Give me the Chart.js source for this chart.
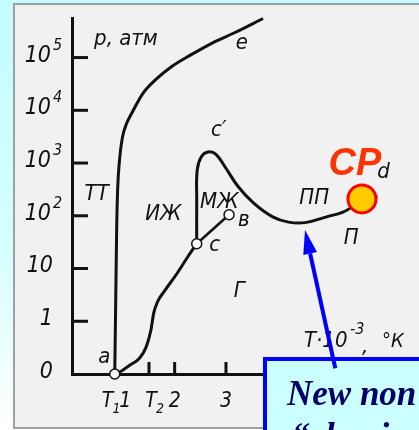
<!DOCTYPE html>
<html><head><meta charset="utf-8">
<script src="https://cdn.jsdelivr.net/npm/chart.js@4/dist/chart.umd.min.js"></script>
<style>
html,body{margin:0;padding:0;width:419px;height:430px;overflow:hidden;
 background:linear-gradient(180deg,#c4fcff 0%,#d4ffff 55%,#ffffff 100%);}
#panel{position:absolute;left:13px;top:3px;width:420px;height:422px;background:#f1f1f1;border:2px solid #a0a0a0;}
#wrap{position:absolute;left:0;top:0;width:419px;height:430px;}
</style></head><body>
<div id="panel"></div>
<div id="wrap"><canvas id="c"></canvas></div>
<script>
// ---- data (T·10^-3 K, log-decade index of p) ----
const SUB_T = [0.833,0.852,0.870,0.889,0.926,0.981,1.056,1.167,1.389,1.630,1.944,2.315,2.741,3.167,3.722];
const SUB_P = [0,1.40,2.73,3.49,4.06,4.48,4.73,4.95,5.33,5.58,5.83,6.05,6.28,6.47,6.74];
const VAP_T = [0.833,0.90,1.13,1.315,1.444,1.537,1.593,1.667,1.815,2.056,2.241,2.43];
const VAP_P = [0.0,0.02,0.17,0.30,0.51,0.83,1.16,1.37,1.59,1.92,2.20,2.47];
const HUMP_T = [2.43,2.43,2.44,2.52,2.65,2.80,2.98,3.24,3.54,3.91,4.22,4.54,4.96,5.28,5.46,5.65,5.95];
const HUMP_P = [2.47,3.30,3.87,4.12,4.21,4.17,3.93,3.55,3.24,2.98,2.88,2.87,2.98,3.07,3.17,3.32,3.37];
const CV_T = [2.43,3.06];
const CV_P = [2.47,3.02];
const A_T = [0.833], A_P = [0];
const CP_T = [5.65], CP_P = [3.32];
const Y_TICKS = [1,2,3,4,5,6];
const Y_BASE = ['0','1','10','10','10','10','10'];
const Y_EXP  = ['','','','2','3','4','5'];
const X_TICKS = [1.5,2,3,4];
const X_LABELS = [{v:0.69,t:'T',s:'1'},{v:1.04,t:'1'},{v:1.54,t:'T',s:'2'},{v:2.0,t:'2'},{v:3.0,t:'3'}];
const REGION_LABELS = [
 {t:'e',x:3.31,y:6.28},{t:'c′',x:2.86,y:4.63},{t:'ТТ',x:0.48,y:3.40},{t:'ИЖ',x:1.78,y:3.02},
 {t:'МЖ',x:2.87,y:3.26},{t:'в',x:3.35,y:2.92},{t:'c',x:2.78,y:2.45},{t:'ПП',x:4.72,y:3.34},
 {t:'П',x:5.44,y:2.58},{t:'Г',x:3.26,y:1.57},{t:'a',x:0.63,y:0.32},{t:'d',x:6.07,y:3.83}
];
const ARROW = {x0:5.13,y0:0.11,x1:4.54,y1:2.73};

const pts=(xs,ys)=>xs.map((x,i)=>({x:x,y:ys[i]}));
const HAND = '"Liberation Sans Narrow","DejaVu Sans Condensed","Liberation Sans",sans-serif';

const annot = {
 id:'annot',
 afterDatasetsDraw(chart){
  const ctx=chart.ctx, xs=chart.scales.x, ys=chart.scales.y;
  ctx.save();
  ctx.strokeStyle='#111'; ctx.lineWidth=3; ctx.lineCap='butt';
  Y_TICKS.forEach(v=>{const y=ys.getPixelForValue(v);ctx.beginPath();ctx.moveTo(xs.left,y);ctx.lineTo(xs.left+16,y);ctx.stroke();});
  X_TICKS.forEach(v=>{const x=xs.getPixelForValue(v);ctx.beginPath();ctx.moveTo(x,ys.bottom);ctx.lineTo(x,ys.bottom-12);ctx.stroke();});
  ctx.fillStyle='#111';
  Y_BASE.forEach((b,i)=>{
   const y=ys.getPixelForValue(i)-2;
   ctx.font='italic 23px '+HAND; ctx.textAlign='right'; ctx.textBaseline='middle';
   ctx.fillText(b,Y_EXP[i]?51:53,y);
   if(Y_EXP[i]){ctx.font='italic 16px '+HAND;ctx.textAlign='left';ctx.fillText(Y_EXP[i],53,y-10);}
  });
  X_LABELS.forEach(l=>{
   const x=xs.getPixelForValue(l.v);
   ctx.font='italic 21px '+HAND; ctx.textAlign='center'; ctx.textBaseline='alphabetic';
   ctx.fillText(l.t,x,407);
   if(l.s){ctx.font='italic 14px '+HAND;ctx.textAlign='left';ctx.fillText(l.s,x+5,413);}
  });
  ctx.font='italic 22px '+HAND; ctx.textAlign='left'; ctx.textBaseline='alphabetic';
  ctx.fillText('p, атм', xs.getPixelForValue(0.43), ys.getPixelForValue(6.24));
  ctx.textAlign='center'; ctx.textBaseline='middle';
  REGION_LABELS.forEach(l=>{ctx.font='italic 22px '+HAND;ctx.fillText(l.t,xs.getPixelForValue(l.x),ys.getPixelForValue(l.y));});
  let x0=xs.getPixelForValue(4.52), yb=ys.getPixelForValue(0.68)+9;
  ctx.textAlign='left'; ctx.textBaseline='alphabetic';
  ctx.font='italic 22px '+HAND; ctx.fillText('T·10',x0,yb);
  ctx.font='italic 16px '+HAND; ctx.fillText('-3',x0+46,yb-13);
  ctx.font='italic 20px '+HAND; ctx.fillText('°К',x0+78,yb);
  ctx.font='italic 22px '+HAND; ctx.fillText(',',x0+58,yb+6);
  ctx.restore();
 },
 afterDraw(chart){
  const ctx=chart.ctx, xs=chart.scales.x, ys=chart.scales.y;
  ctx.save();
  ctx.fillStyle='#ccffff'; ctx.fillRect(263,357,170,90);
  ctx.strokeStyle='#0000ff'; ctx.lineWidth=4; ctx.strokeRect(265,359,170,90);
  ctx.fillStyle='#000066'; ctx.font='italic bold 35px "Liberation Serif","DejaVu Serif",serif';
  ctx.textAlign='left'; ctx.textBaseline='alphabetic';
  ctx.fillText('New non',287,405);
  ctx.fillText('“classical”',292,447);
  const ax0=xs.getPixelForValue(ARROW.x0), ay0=ys.getPixelForValue(ARROW.y0);
  const ax1=xs.getPixelForValue(ARROW.x1), ay1=ys.getPixelForValue(ARROW.y1);
  const ang=Math.atan2(ay1-ay0,ax1-ax0), L=24, W=7;
  const bx=ax1-L*Math.cos(ang), by=ay1-L*Math.sin(ang);
  ctx.strokeStyle='#0000ff'; ctx.lineWidth=4;
  ctx.beginPath(); ctx.moveTo(ax0,ay0); ctx.lineTo(bx,by); ctx.stroke();
  ctx.fillStyle='#0000ff'; ctx.beginPath();
  ctx.moveTo(ax1,ay1);
  ctx.lineTo(bx+W*Math.sin(ang),by-W*Math.cos(ang));
  ctx.lineTo(bx-W*Math.sin(ang),by+W*Math.cos(ang));
  ctx.closePath(); ctx.fill();
  ctx.fillStyle='#ff3300'; ctx.font='italic bold 38px "Liberation Sans",Arial,sans-serif';
  ctx.fillText('CP', xs.getPixelForValue(5.0), ys.getPixelForValue(3.78));
  ctx.restore();
 }
};

const lineDs=(d,t,mono)=>({data:d,showLine:true,borderColor:'#111',borderWidth:3,pointRadius:0,tension:t,
  cubicInterpolationMode:mono?'monotone':'default',fill:false,order:3,clip:false});
new Chart(document.getElementById('c'),{
 type:'scatter',
 data:{datasets:[
  {data:pts(CP_T,CP_P),pointRadius:14,pointBorderWidth:3,pointBackgroundColor:'#ffcc00',pointBorderColor:'#ff0000',order:0,clip:false},
  {data:pts(A_T,A_P),pointRadius:5,pointBorderWidth:1.5,pointBackgroundColor:'#fff',pointBorderColor:'#111',order:1,clip:false},
  {data:pts(CV_T,CV_P),showLine:true,borderColor:'#111',borderWidth:2.5,pointRadius:5,pointBorderWidth:1.5,pointBackgroundColor:'#fff',pointBorderColor:'#111',order:1,clip:false},
  lineDs(pts(SUB_T,SUB_P),0.4,true),
  lineDs(pts(VAP_T,VAP_P),0.4,true),
  lineDs(pts(HUMP_T,HUMP_P),0.4,false)
 ]},
 options:{
  responsive:true,maintainAspectRatio:false,animation:false,
  layout:{padding:{top:18,right:0,left:0,bottom:0}},
  plugins:{legend:{display:false},tooltip:{enabled:false}},
  scales:{
   x:{type:'linear',min:0,max:6.43,grid:{display:false},ticks:{display:false},
      border:{color:'#111',width:3},afterFit:s=>{s.height=56;}},
   y:{type:'linear',min:0,max:6.75,grid:{display:false},ticks:{display:false},
      border:{color:'#111',width:3},afterFit:s=>{s.width=72;}}
  }
 },
 plugins:[annot]
});
</script></body></html>
